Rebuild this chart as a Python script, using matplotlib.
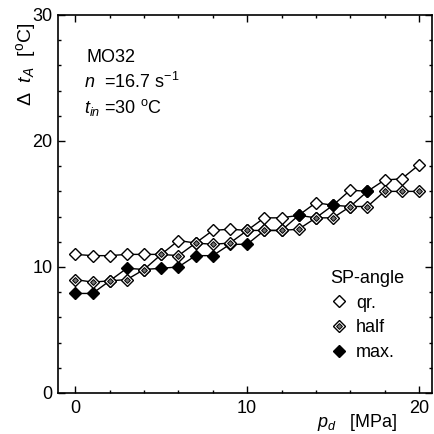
import matplotlib
matplotlib.use("Agg")
import matplotlib.pyplot as plt
from matplotlib.ticker import MultipleLocator
from matplotlib.legend_handler import HandlerTuple

plt.rcParams['font.family'] = ['Liberation Sans', 'DejaVu Sans']
plt.rcParams['mathtext.fontset'] = 'custom'
plt.rcParams['mathtext.rm'] = 'Liberation Sans'
plt.rcParams['mathtext.it'] = 'Liberation Sans:italic'

# discharge pressure [MPa]
p_d = list(range(21))
# temperature rise for each SP-angle
dt_qr = [11.0, 10.9, 10.9, 11.0, 11.0, 11.0, 12.1, 11.9, 12.9, 13.0, 12.9,
         13.9, 13.9, 14.1, 15.1, 14.9, 16.1, 16.0, 16.9, 17.0, 18.1]
dt_half = [9.0, 8.8, 8.9, 9.0, 9.8, 11.0, 10.9, 11.9, 11.8, 11.9, 12.9,
           12.9, 12.9, 13.0, 13.9, 13.9, 14.8, 14.8, 16.0, 16.0, 16.0]
p_d_max = list(range(18))
dt_max = [7.9, 7.9, 8.9, 9.9, 9.8, 9.9, 10.0, 10.9, 10.9, 11.8, 11.8,
          12.9, 12.9, 14.1, 13.9, 14.9, 14.8, 16.0]

labels = ["qr.", "half", "max."]
fs = 13

fig = plt.figure(figsize=(4.34, 4.34), dpi=100)
ax = fig.add_axes([0.134, 0.0945, 0.861, 0.871])

# lines first, markers on top
for xs, ys in [(p_d, dt_qr), (p_d_max, dt_max), (p_d, dt_half)]:
    ax.plot(xs, ys, color='black', lw=1.0, zorder=2)

ms = 6.3
h_qr, = ax.plot(p_d, dt_qr, ls='none', marker='D', ms=ms, mfc='white',
                mec='black', mew=1.0, zorder=3)
h_max, = ax.plot(p_d_max, dt_max, ls='none', marker='D', ms=ms, mfc='black',
                 mec='black', mew=1.0, zorder=4)
h_half_out, = ax.plot(p_d, dt_half, ls='none', marker='D', ms=ms, mfc='white',
                      mec='black', mew=1.0, zorder=5)
h_half_in, = ax.plot(p_d, dt_half, ls='none', marker='D', ms=3.0, mfc='0.45',
                     mec='black', mew=0.7, zorder=6)

ax.set_xlim(-1, 20.75)
ax.set_ylim(0, 30)
ax.xaxis.set_major_locator(MultipleLocator(10))
ax.xaxis.set_minor_locator(MultipleLocator(2))
ax.yaxis.set_major_locator(MultipleLocator(10))
ax.yaxis.set_minor_locator(MultipleLocator(2))
ax.tick_params(which='both', direction='in', top=True, right=True,
               labelsize=fs, width=1.0)
ax.tick_params(which='major', length=5, pad=4)
ax.tick_params(axis='x', which='major', pad=5)
ax.tick_params(which='minor', length=2.5)
for s in ax.spines.values():
    s.set_linewidth(1.2)

ax.set_ylabel(r"$\Delta\ \ t_A\ \ $[$^{\mathrm{o}}$C]", fontsize=fs + 1)
ax.yaxis.set_label_coords(-0.055, 0.87)
ax.set_xlabel(r"$p_d\ \ \ $[MPa]", fontsize=fs)
ax.xaxis.set_label_coords(0.8, -0.05)

ax.text(0.075, 0.876, "MO32", transform=ax.transAxes, fontsize=fs,
        va='baseline')
ax.text(0.068, 0.807, r"$n$  =16.7 s$^{-1}$", transform=ax.transAxes,
        fontsize=fs, va='baseline')
ax.text(0.068, 0.741, r"$t_{in}$ =30 $^{\mathrm{o}}$C", transform=ax.transAxes,
        fontsize=fs, va='baseline')

ax.legend([h_qr, (h_half_out, h_half_in), h_max], labels, title="SP-angle",
          handler_map={tuple: HandlerTuple(ndivide=1, pad=0)},
          loc='upper left', bbox_to_anchor=(0.727, 0.325), frameon=False,
          fontsize=fs, title_fontsize=fs, handlelength=1.0,
          handletextpad=0.45, labelspacing=0.42, borderpad=0,
          borderaxespad=0, alignment='left')

fig.savefig("out.png", dpi=100)
